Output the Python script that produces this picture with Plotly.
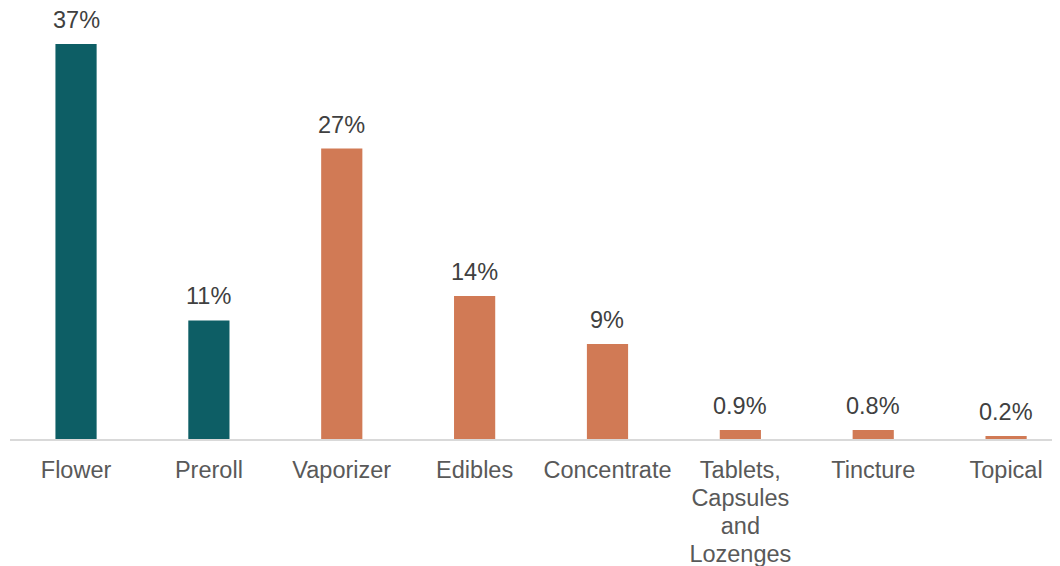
import plotly.graph_objects as go

categories = ["Flower", "Preroll", "Vaporizer", "Edibles", "Concentrate",
              "Tablets,<br>Capsules<br>and<br>Lozenges", "Tincture", "Topical"]
values = [37.0, 11.1, 27.2, 13.4, 8.9, 0.85, 0.85, 0.28]
labels = ["37%", "11%", "27%", "14%", "9%", "0.9%", "0.8%", "0.2%"]
groups = ["inhale", "inhale", "other", "other", "other", "other", "other", "other"]

color_map = {"inhale": "#0d5e65", "other": "#d17a55"}
colors = [color_map[g] for g in groups]
FONT = "Liberation Sans, Arial, sans-serif"


def big(txt):
    return "<br>".join('<span style="font-size:23.5px">%s</span>' % p for p in txt.split("<br>"))


fig = go.Figure()
fig.add_trace(go.Bar(
    x=list(range(len(categories))), y=values, marker_color=colors,
    marker_line_width=0, width=0.31, hoverinfo="skip",
))
for i, (v, t) in enumerate(zip(values, labels)):
    fig.add_annotation(x=i, y=v, text=t, showarrow=False, yanchor="bottom",
                       yshift=9, font=dict(family=FONT, size=23.5, color="#404040"))

fig.update_layout(
    width=1060, height=566,
    margin=dict(l=2, r=0, t=0, b=135),
    paper_bgcolor="white", plot_bgcolor="white",
    showlegend=False,
    font=dict(family=FONT, size=22, color="#404040"),
)
fig.update_xaxes(
    tickmode="array", tickvals=list(range(len(categories))),
    ticktext=[big(c) for c in categories],
    range=[-0.497, 7.466], showgrid=False, zeroline=False,
    showline=True, linecolor="#d9d9d9", linewidth=2,
    ticks="", ticklabelstandoff=11, automargin=False,
    tickfont=dict(family=FONT, size=21.5, color="#595959"),
)
fig.update_yaxes(range=[0, 40.36], visible=False, showgrid=False,
                 zeroline=False, automargin=False)

fig.write_html("out.html")
